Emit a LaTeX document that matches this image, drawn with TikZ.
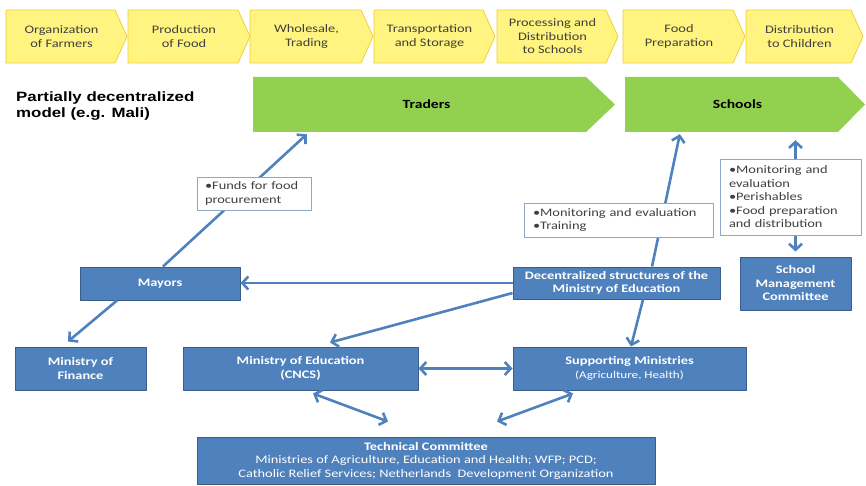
\documentclass[tikz,border=0pt]{standalone}
\usepackage{fontspec}
\setmainfont{Carlito}[FakeStretch=1.25]
\newfontfamily\titlefont{Liberation Sans}[FakeStretch=1.25]
\usetikzlibrary{arrows.meta}
\definecolor{sun}{HTML}{FFF47F}
\definecolor{sundk}{HTML}{EFCF3F}
\definecolor{leaf}{HTML}{92D050}
\definecolor{navy}{HTML}{4F81BD}
\definecolor{navydk}{HTML}{385D8A}
\definecolor{ink}{HTML}{404040}
\definecolor{rim}{HTML}{8DA7C8}
\tikzset{fig/.style={x=1pt,y=-1pt,line join=round,>={Straight Barb[length=6pt,width=13pt]}},
  chev/.style={fill=sun,draw=sundk,line width=0.8pt},
  chevtxt/.style={align=center,text=ink,font=\fontsize{11.5}{13.5}\selectfont},
  band/.style={fill=leaf},
  bandtxt/.style={font=\bfseries\fontsize{12.5}{14}\selectfont,minimum height=55pt,inner sep=0pt},
  unit/.style={fill=navy,draw=navydk,line width=1pt,text=white,align=center,inner sep=0pt,
    font=\bfseries\fontsize{11.5}{13.5}\selectfont},
  note/.style={fill=white,draw=rim,line width=0.8pt,text=ink,align=left,inner sep=0pt,
    font=\fontsize{11.5}{13.5}\selectfont},
  link/.style={navy,line width=2.6pt}}
\begin{document}
\begin{tikzpicture}[fig]
  \useasboundingbox(0,0)rectangle(866,486);
  \foreach \i/\xl/\w/\txt in {1/6/121/{Organization\\of Farmers},2/128/122/{Production\\of Food},
    3/250/123/{Wholesale,\\Trading},4/374/121/{Transportation\\and Storage},
    5/497/121/{Processing and\\Distribution\\to Schools},6/623/122/{Food\\Preparation},
    7/746/117/{Distribution\\to Children}}{
    \filldraw[chev](\xl,10)--++(\w-12,0)--++(12,26.5)--++(-12,26.5)--++(12-\w,0)--cycle;
    \node[chevtxt](c\i)at(\xl+\w/2-5,36.5){\txt};}
  \fill[band](253,77)--(586,77)--(615,104.5)--(586,132)--(253,132)--cycle;
  \node[bandtxt,minimum width=347pt](traders)at(426.5,104.5){Traders};
  \fill[band](625,77)--(838,77)--(865,104.5)--(838,132)--(625,132)--cycle;
  \node[bandtxt,minimum width=225pt](schools)at(737.5,104.5){Schools};
  \node[font=\titlefont\bfseries\fontsize{13.5}{16}\selectfont,align=left,anchor=north west,inner sep=0pt]
    (model)at(16,92){Partially decentralized\\model (e.g. Mali)};
  \node[unit,minimum width=160pt,minimum height=33pt](mayors)at(160,283.5){Mayors};
  \node[unit,minimum width=131pt,minimum height=43pt](finance)at(80.5,368.5){Ministry of\\Finance};
  \node[unit,minimum width=235pt,minimum height=43pt](mined)at(300.5,368.5){Ministry of Education\\(CNCS)};
  \node[unit,minimum width=207pt,minimum height=32pt](decen)at(616.5,283){Decentralized structures of the\\Ministry of Education};
  \node[unit,minimum width=233pt,minimum height=43pt](supp)at(629.5,368.5)
    {Supporting Ministries\\{\mdseries\fontsize{10.5}{12}\selectfont(Agriculture, Health)}};
  \node[unit,minimum width=111pt,minimum height=53pt](smc)at(795.5,283.5){School\\Management\\Committee};
  \node[unit,minimum width=458pt,minimum height=47pt](tech)at(426,460.5){Technical Committee\\
    {\mdseries Ministries of Agriculture, Education and Health; WFP; PCD;}\\
    {\mdseries Catholic Relief Services; Netherlands\ \ Development Organization}};
  \draw[link,->]([xshift=3pt]mayors.north)--([xshift=54pt,yshift=-2pt]traders.south west);
  \draw[link,->]([xshift=-43pt]mayors.south)--([xshift=-12.5pt,yshift=5pt]finance.north);
  \draw[link,->](decen.west)--(decen.west-|mayors.east);
  \draw[link,->]([yshift=-10pt]decen.west)--([xshift=29.5pt,yshift=4pt]mined.north);
  \draw[link,->]([xshift=35.5pt]decen.north)--([xshift=55pt,yshift=-2pt]schools.south west);
  \draw[link,->]([xshift=26.5pt]decen.south)--([xshift=1.5pt]supp.north);
  \draw[link,<->,shorten <=5pt,shorten >=8pt](smc.north)--(smc.north|-schools.south);
  \draw[link,<->](mined.east)--(supp.west);
  \draw[link,<->]([xshift=12.5pt,yshift=-3pt]mined.south)--([xshift=-38pt,yshift=15pt]tech.north);
  \draw[link,<->]([xshift=-56.5pt,yshift=-3pt]supp.south)--([xshift=71pt,yshift=15pt]tech.north);
  \node[note,text width=98pt,inner xsep=8pt,minimum height=33pt](funds)at(254,193.5)
    {•Funds for food\\procurement};
  \node[note,text width=171pt,inner xsep=9pt,minimum height=34pt](train)at(618.5,220)
    {•Monitoring and evaluation\\•Training};
  \node[note,text width=123pt,inner xsep=9pt,minimum height=76pt](care)at(790.5,197)
    {•Monitoring and\\evaluation\\•Perishables\\•Food preparation\\and distribution};
\end{tikzpicture}
\end{document}
